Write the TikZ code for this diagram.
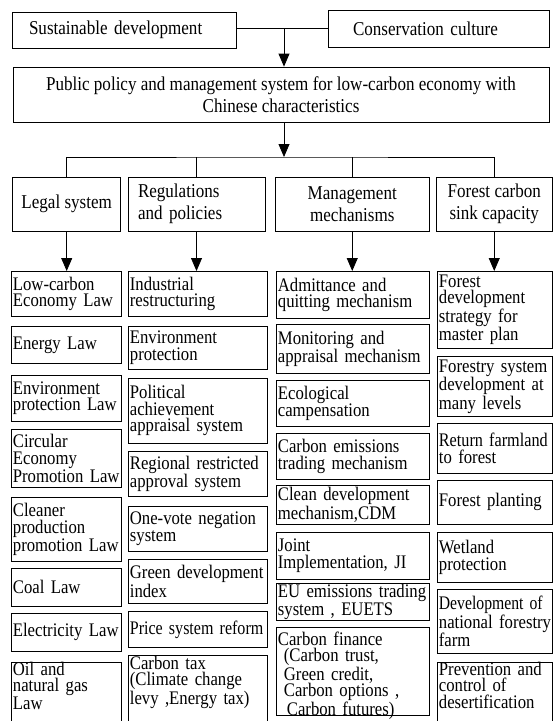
\documentclass[tikz,border=0pt]{standalone}
\usepackage{fontspec}
\usepackage{graphicx}
\setmainfont{Liberation Serif}[FakeStretch = 0.87]
\usetikzlibrary{arrows.meta}

% Tight leaf text: no hyphens, narrow word spaces.
\newcommand{\leaffont}{%
    \fontsize{19.2}{16.5}\selectfont
    \hyphenpenalty = 10000 \exhyphenpenalty = 10000
    \spaceskip = 3.8pt\relax}

\begin{document}
\begin{tikzpicture}[%
        x = 1pt,
        y = -1pt,
        line width = 0.8pt,
        > = {Triangle[width = 11pt, length = 13pt]},
        headbox/.style = {%
            draw,
            inner sep = 0pt,
            align = center,
            font = \fontsize{19.6}{22}\selectfont
        },
        leafbox/.style = {%
            draw,
            anchor = north west,
            align = left,
            inner xsep = 1.5pt,
            inner ysep = 0pt,
            font = \leaffont
        },
        openbox/.style = {%
            text height = #1,
            text depth = 70pt
        },
        legalcol/.style = {leafbox, text width = 107pt},
        rulecol/.style = {leafbox, text width = 136pt},
        mechcol/.style = {leafbox, text width = 150pt},
        sinkcol/.style = {leafbox, text width = 112pt}
    ]

        % Fix the frame of the picture and cut the open boxes at its foot.
        \useasboundingbox (0, 0) rectangle (553, 721);
        \clip (0, 0) rectangle (553, 721);

        % The two sources on top and the system they lead to.
        \node[headbox, align = left, text width = 190pt, inner xsep = 17pt,
            minimum height = 36pt] (sust) at (124, 30) {Sustainable development};
        \node[headbox, align = left, text width = 171pt, inner xsep = 25pt,
            minimum height = 37pt] (cons) at (438.5, 28.5) {Conservation culture};
        \node[headbox, minimum width = 536pt, minimum height = 55pt] (public)
            at (281, 94.5) {Public policy and management system for low-carbon economy with\\
            Chinese characteristics};

        \coordinate (join) at (284, 28);
        \coordinate (bus) at (284, 157);
        \draw (sust.east |- join) to (cons.west |- join);
        \draw[->] (join) to (join |- public.north);
        \draw[->] (public.south -| bus) to (bus);

        % The four branches.
        \node[headbox, minimum width = 108pt, minimum height = 54pt] (legal)
            at (66.7, 204) {Legal system};
        \node[headbox, align = left, text width = 117pt, inner xsep = 10pt,
            minimum height = 54pt] (regs) at (196.5, 204) {Regulations\\and policies};
        \node[headbox, minimum width = 154.5pt, minimum height = 54pt] (mgmt)
            at (352.25, 204) {Management\\mechanisms};
        \node[headbox, minimum width = 115.5pt, minimum height = 54pt] (forest)
            at (494.25, 204) {Forest carbon\\sink capacity};

        \draw (legal.north) |- (bus) -| (forest.north);
        \draw (regs.north) to (regs.north |- bus);
        \draw (mgmt.north) to (mgmt.north |- bus);

        % Legal system column.
        \node[legalcol, minimum height = 45pt] (lowlaw) at (11, 271) {Low-carbon\\Economy~Law};
        \node[legalcol, minimum height = 37pt] (energy) at (11, 326) {Energy~Law};
        \node[legalcol, minimum height = 46pt] (envlaw) at (11, 375) {Environment\\protection~Law};
        \node[legalcol, minimum height = 58pt] (circular) at (11, 429) {Circular\\Economy\\Promotion~Law};
        \node[legalcol, minimum height = 64pt] (cleaner) at (11, 497) {Cleaner\\production\\promotion~Law};
        \node[legalcol, minimum height = 38pt] (coal) at (11, 568) {Coal~Law};
        \node[legalcol, minimum height = 38pt] (electric) at (11, 613) {Electricity~Law};
        \node[legalcol, openbox = 13pt] (oilgas) at (11, 662) {Oil~and\\natural~gas\\Law};

        % Regulations and policies column.
        \node[rulecol, minimum height = 45pt] (industry) at (128, 271) {Industrial\\restructuring};
        \node[rulecol, minimum height = 43pt] (envprot) at (128, 326) {Environment\\protection};
        \node[rulecol, minimum height = 65pt] (political) at (128, 378) {Political\\achievement\\appraisal~system};
        \node[rulecol, minimum height = 45pt] (regional) at (128, 451) {Regional~restricted\\approval~system};
        \node[rulecol, minimum height = 45pt] (onevote) at (128, 506) {One-vote~negation\\system};
        \node[rulecol, minimum height = 44pt] (green) at (128, 559) {Green~development\\index};
        \node[rulecol, minimum height = 36pt] (price) at (128, 611) {\scalebox{0.96}[1]{Price system reform}};
        \node[rulecol, openbox = 14pt] (carbontax) at (128, 655) {Carbon~tax\\(Climate~change\\levy~,Energy~tax)};

        % Management mechanisms column.
        \node[mechcol, minimum height = 47pt] (admit) at (276, 271) {Admittance~and\\quitting~mechanism};
        \node[mechcol, minimum height = 49pt] (monitor) at (276, 324) {Monitoring~and\\appraisal~mechanism};
        \node[mechcol, minimum height = 46pt] (ecology) at (276, 380) {Ecological\\campensation};
        \node[mechcol, minimum height = 46pt] (emission) at (276, 433) {Carbon~emissions\\trading~mechanism};
        \node[mechcol, minimum height = 39pt] (cdm) at (276, 485) {Clean~development\\mechanism,CDM};
        \node[mechcol, minimum height = 47pt] (joint) at (276, 532) {Joint\\Implementation,~JI};
        \node[mechcol, minimum height = 37pt] (euets) at (276, 583) {EU~emissions~trading\\system~,~EUETS};
        \node[mechcol, openbox = 18pt] (finance) at (276, 627) {Carbon~finance\\
            \hspace*{6pt}(Carbon~trust,\\\hspace*{6pt}Green~credit,\\
            \hspace*{6pt}Carbon~options~,\\\hspace*{9pt}Carbon~futures)};

        % Forest carbon sink capacity column.
        \node[sinkcol, minimum height = 77pt] (strategy) at (437, 271) {Forest\\development\\strategy~for\\master~plan};
        \node[sinkcol, minimum height = 60pt] (forestry) at (437, 356) {Forestry~system\\development~at\\many~levels};
        \node[sinkcol, minimum height = 50pt] (farmland) at (437, 423) {\scalebox{0.97}[1]{Return farmland}\\to~forest};
        \node[sinkcol, minimum height = 44pt] (planting) at (437, 480) {Forest~planting};
        \node[sinkcol, minimum height = 50pt] (wetland) at (437, 532) {Wetland\\protection};
        \node[sinkcol, minimum height = 64pt] (national) at (437, 589) {\scalebox{0.94}[1]{Development of}\\national~forestry\\farm};
        \node[sinkcol, openbox = 13pt] (desert) at (437, 662) {Prevention~and\\control~of\\desertification};

        % Arrows from each branch to the head of its column.
        \foreach \branch/\leaf in {legal/lowlaw, regs/industry, mgmt/admit, forest/strategy}
            \draw[->] (\branch.south) to (\branch.south |- \leaf.north);
    \end{tikzpicture}
\end{document}
